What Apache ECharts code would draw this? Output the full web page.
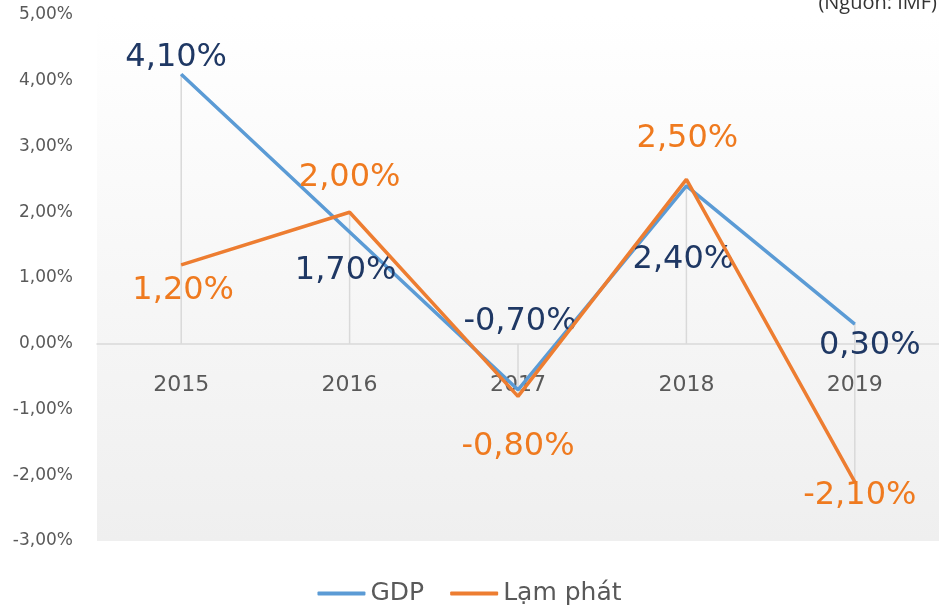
<!DOCTYPE html>
<html>
<head>
<meta charset="utf-8">
<script src="https://cdn.jsdelivr.net/npm/echarts@6/dist/echarts.min.js"></script>
<style>html,body{margin:0;padding:0;background:#fff}#c{width:939px;height:613px}</style>
</head>
<body>
<div id="c"></div>
<script>
const years = ['2015', '2016', '2017', '2018', '2019'];
const gdp = [4.1, 1.7, -0.7, 2.4, 0.3];
const inflation = [1.2, 2.0, -0.8, 2.5, -2.1];
const seriesNames = ['GDP', 'Lạm phát'];
const sourceNote = '(Nguồn: IMF)';
const yMin = -3, yMax = 5;

const gdpLabelOffsets = [[-5, -16], [-4, 39], [2, -68], [-3, 74], [15, 22]];
const infLabelOffsets = [[2, 26], [0, -35], [0, 50], [1, -41], [5, 14]];

const FONT = 'DejaVu Sans';
const fmt = v => v.toFixed(2).replace('.', ',') + '%';

const GRID_TOP = 15, GRID_BOTTOM = 72, H = 613;
const plotH = H - GRID_TOP - GRID_BOTTOM;
const zeroOffset = -plotH * (0 - yMin) / (yMax - yMin);

function withLabels(vals, offs) {
  return vals.map((v, i) => ({ value: v, label: { offset: offs[i] } }));
}

const chart = echarts.init(document.getElementById('c'), null, { renderer: 'canvas' });
chart.setOption({
  animation: false,
  backgroundColor: '#ffffff',
  grid: {
    left: 97, right: 0, top: GRID_TOP, bottom: GRID_BOTTOM,
    show: true, borderWidth: 0,
    backgroundColor: new echarts.graphic.LinearGradient(0, 0, 0, 1, [
      { offset: 0, color: '#ffffff' },
      { offset: 1, color: '#efefef' }
    ])
  },
  graphic: [{
    type: 'text', right: 2, top: -7,
    style: { text: sourceNote, font: '20px "Open Sans"', fill: '#333333' }
  }],
  legend: {
    bottom: 2, left: 'center',
    data: seriesNames,
    icon: 'roundRect', itemWidth: 48, itemHeight: 4, itemGap: 26,
    textStyle: { fontFamily: FONT, fontSize: 25, color: '#595959' }
  },
  xAxis: {
    type: 'category', data: years, boundaryGap: true,
    offset: zeroOffset,
    axisLine: { show: true, onZero: false, lineStyle: { color: '#d9d9d9', width: 1.5 } },
    axisTick: { show: false },
    splitLine: { show: false },
    axisLabel: { fontFamily: FONT, fontSize: 22, color: '#595959', margin: 31 }
  },
  yAxis: {
    type: 'value', min: yMin, max: yMax, interval: 1,
    axisLine: { show: false }, axisTick: { show: false }, splitLine: { show: false },
    axisLabel: { fontFamily: FONT, fontSize: 17, color: '#595959', margin: 24, formatter: fmt }
  },
  series: [
    {
      type: 'custom', name: 'drop', silent: true, z: 1,
      data: years.map((y, i) => [i, Math.min(0, gdp[i], inflation[i]), Math.max(0, gdp[i], inflation[i])]),
      renderItem: function (params, api) {
        const p1 = api.coord([api.value(0), api.value(1)]);
        const p2 = api.coord([api.value(0), api.value(2)]);
        return { type: 'line', shape: { x1: p1[0], y1: p1[1], x2: p2[0], y2: p2[1] },
          style: { stroke: '#d9d9d9', lineWidth: 1.5 } };
      }
    },
    {
      name: seriesNames[0], type: 'line', z: 3,
      data: withLabels(gdp, gdpLabelOffsets),
      symbol: 'circle', symbolSize: 1,
      itemStyle: { color: '#5b9bd5' },
      lineStyle: { color: '#5b9bd5', width: 3.5 },
      label: { show: true, position: 'inside', align: 'center', verticalAlign: 'middle',
        fontFamily: FONT, fontSize: 32, color: '#1f3864', formatter: p => fmt(p.value) }
    },
    {
      name: seriesNames[1], type: 'line', z: 4,
      data: withLabels(inflation, infLabelOffsets),
      symbol: 'circle', symbolSize: 1,
      itemStyle: { color: '#ed7d31' },
      lineStyle: { color: '#ed7d31', width: 3.5 },
      label: { show: true, position: 'inside', align: 'center', verticalAlign: 'middle',
        fontFamily: FONT, fontSize: 32, color: '#ef7a1f', formatter: p => fmt(p.value) }
    }
  ]
});
</script>
</body>
</html>
